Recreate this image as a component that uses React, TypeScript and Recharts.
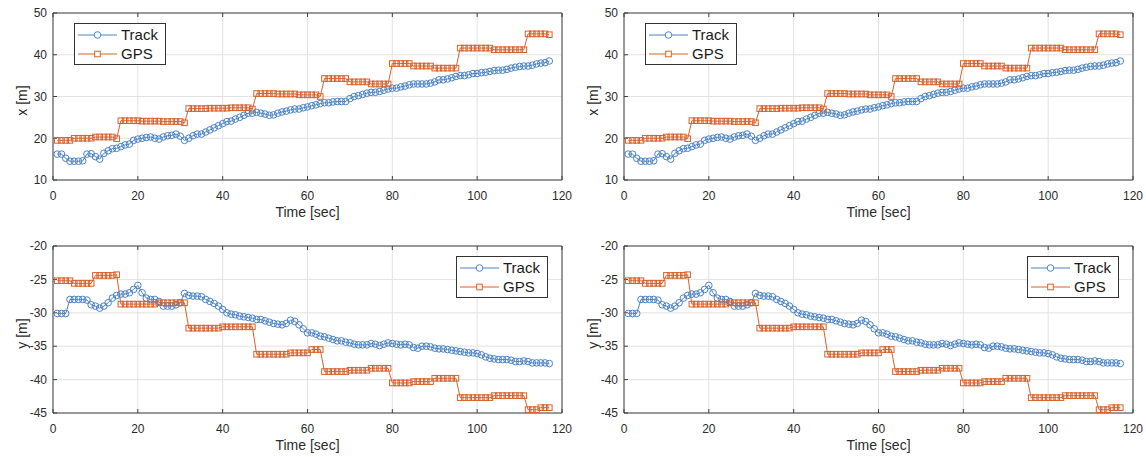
import React from 'react';
import { LineChart, Line, XAxis, YAxis, CartesianGrid, Legend } from 'recharts';

const time = [
  1, 2, 3, 4, 5, 6, 7, 8, 9, 10, 11, 12, 13, 14, 15, 16, 17, 18, 19, 20,
  21, 22, 23, 24, 25, 26, 27, 28, 29, 30, 31, 32, 33, 34, 35, 36, 37, 38, 39, 40,
  41, 42, 43, 44, 45, 46, 47, 48, 49, 50, 51, 52, 53, 54, 55, 56, 57, 58, 59, 60,
  61, 62, 63, 64, 65, 66, 67, 68, 69, 70, 71, 72, 73, 74, 75, 76, 77, 78, 79, 80,
  81, 82, 83, 84, 85, 86, 87, 88, 89, 90, 91, 92, 93, 94, 95, 96, 97, 98, 99, 100,
  101, 102, 103, 104, 105, 106, 107, 108, 109, 110, 111, 112, 113, 114, 115, 116, 117,
];

const trackX = [
  16.2, 16.2, 15.2, 14.5, 14.5, 14.5, 14.6, 16.2, 16.3, 15.6, 15.0, 16.4, 17.0, 17.5, 17.6, 18.0, 18.4, 18.6, 19.5, 19.8,
  20.0, 20.2, 20.3, 20.0, 19.8, 20.3, 20.6, 20.7, 21.0, 20.5, 19.5, 20.0, 20.6, 21.0, 21.0, 21.5, 22.0, 22.5, 23.0, 23.5,
  24.0, 24.1, 24.6, 25.0, 25.5, 26.0, 26.0, 26.2, 26.0, 25.8, 25.5, 25.6, 26.0, 26.3, 26.5, 26.8, 27.0, 27.0, 27.3, 27.5,
  27.8, 28.0, 28.3, 28.5, 28.5, 28.7, 28.8, 28.8, 28.8, 29.5, 30.0, 30.2, 30.5, 30.8, 31.0, 31.0, 31.2, 31.5, 31.8, 32.0,
  32.0, 32.3, 32.5, 32.8, 33.0, 33.0, 33.0, 33.0, 33.2, 33.5, 34.0, 34.0, 34.2, 34.5, 34.8, 35.0, 35.0, 35.2, 35.5, 35.5,
  35.7, 35.8, 36.0, 36.2, 36.3, 36.3, 36.5, 36.8, 37.0, 37.2, 37.3, 37.3, 37.5, 37.8, 38.0, 38.1, 38.5,
];

const gpsX = [
  19.5, 19.5, 19.5, 19.5, 20.0, 20.0, 20.0, 20.0, 20.0, 20.3, 20.3, 20.3, 20.3, 20.3, 19.9,
  24.2, 24.2, 24.2, 24.2, 24.2, 24.1, 24.1, 24.1, 24.1, 24.1, 24.0, 24.0, 24.0, 24.0, 24.0, 23.7,
  27.1, 27.1, 27.1, 27.1, 27.1, 27.2, 27.2, 27.2, 27.2, 27.2, 27.3, 27.3, 27.3, 27.3, 27.3, 27.0,
  30.7, 30.7, 30.7, 30.7, 30.7, 30.6, 30.6, 30.6, 30.6, 30.6, 30.4, 30.4, 30.4, 30.4, 30.4, 30.0,
  34.3, 34.3, 34.3, 34.3, 34.3, 34.3, 33.5, 33.5, 33.5, 33.5, 33.5, 33.0, 33.0, 33.0, 33.0, 33.0,
  37.9, 37.9, 37.9, 37.9, 37.9, 37.3, 37.3, 37.3, 37.3, 37.3, 36.8, 36.8, 36.8, 36.8, 36.8, 36.8,
  41.6, 41.6, 41.6, 41.6, 41.6, 41.6, 41.6, 41.6, 41.2, 41.2, 41.2, 41.2, 41.2, 41.2, 41.2, 41.2,
  45.0, 45.0, 45.0, 45.0, 45.0, 44.8,
];

const trackY = [
  -30.1, -30.1, -30.1, -28.0, -28.0, -28.0, -28.0, -28.1, -28.8, -29.0, -29.3, -29.0, -28.5, -27.8, -27.4, -27.2, -27.2, -27.0, -26.5, -25.9,
  -27.0, -27.8, -28.0, -28.0, -28.3, -29.0, -29.0, -29.0, -28.8, -28.5, -27.1, -27.4, -27.5, -27.5, -27.6, -28.0, -28.3, -28.6, -29.0, -29.5,
  -30.0, -30.2, -30.3, -30.5, -30.6, -30.7, -30.8, -31.0, -31.0, -31.2, -31.4, -31.6, -31.7, -31.8, -31.6, -31.1, -31.3, -31.8, -32.4, -33.0,
  -33.0, -33.2, -33.5, -33.6, -33.8, -34.0, -34.2, -34.2, -34.4, -34.5, -34.7, -34.8, -34.8, -34.8, -34.6, -34.7, -34.9, -34.7, -34.5, -34.6,
  -34.7, -34.8, -34.7, -34.8, -35.2, -35.3, -35.0, -35.0, -35.1, -35.3, -35.4, -35.4, -35.5, -35.6, -35.7, -35.8, -35.9, -36.0, -36.0, -36.1,
  -36.3, -36.6, -36.8, -36.9, -37.0, -37.0, -37.0, -37.1, -37.3, -37.3, -37.2, -37.3, -37.5, -37.5, -37.5, -37.5, -37.6,
];

const gpsY = [
  -25.2, -25.2, -25.2, -25.2, -25.6, -25.6, -25.6, -25.6, -25.6, -24.4, -24.4, -24.4, -24.4, -24.4, -24.3,
  -28.7, -28.7, -28.7, -28.7, -28.7, -28.7, -28.7, -28.7, -28.7, -28.5, -28.5, -28.5, -28.5, -28.5, -28.5, -28.5,
  -32.3, -32.3, -32.3, -32.3, -32.3, -32.3, -32.3, -32.3, -32.1, -32.1, -32.1, -32.1, -32.1, -32.1, -32.1, -32.1,
  -36.2, -36.2, -36.2, -36.2, -36.2, -36.2, -36.2, -36.2, -36.0, -36.0, -36.0, -36.0, -36.0, -35.5, -35.5, -35.5,
  -38.8, -38.8, -38.8, -38.8, -38.8, -38.8, -38.6, -38.6, -38.6, -38.6, -38.6, -38.3, -38.3, -38.3, -38.3, -38.3,
  -40.5, -40.5, -40.5, -40.5, -40.5, -40.3, -40.3, -40.3, -40.3, -40.3, -39.8, -39.8, -39.8, -39.8, -39.8, -39.8,
  -42.7, -42.7, -42.7, -42.7, -42.7, -42.7, -42.7, -42.7, -42.4, -42.4, -42.4, -42.4, -42.4, -42.4, -42.4, -42.4,
  -44.5, -44.5, -44.5, -44.2, -44.2, -44.2,
];

const timeTicks = [0, 20, 40, 60, 80, 100, 120];
const xPosTicks = [10, 20, 30, 40, 50];
const yPosTicks = [-45, -40, -35, -30, -25, -20];
const seriesNames = ['Track', 'GPS'];
const timeLabel = 'Time [sec]';

const TRACK_COLOR = '#4a83c6';
const GPS_COLOR = '#d9602a';
const AXIS_COLOR = '#404040';
const TEXT_COLOR = '#2b2b2b';
const GRID_COLOR = '#e2e2e2';
const FONT = '"Liberation Sans", Arial, Helvetica, sans-serif';

const xRows = time.map((t, i) => ({ t, track: trackX[i], gps: gpsX[i] }));
const yRows = time.map((t, i) => ({ t, track: trackY[i], gps: gpsY[i] }));

const CircleDot = (p: any) => {
  if (p.cx == null || p.cy == null) return null;
  return <circle key={`c${p.index}`} cx={p.cx} cy={p.cy} r={3.3} fill="none" stroke={TRACK_COLOR} strokeWidth={1} />;
};

const SquareDot = (p: any) => {
  if (p.cx == null || p.cy == null) return null;
  return (
    <rect key={`s${p.index}`} x={p.cx - 2.8} y={p.cy - 2.8} width={5.6} height={5.6} fill="none" stroke={GPS_COLOR} strokeWidth={1} />
  );
};

const LegendBox = () => (
  <div
    style={{
      width: 92,
      height: 42,
      boxSizing: 'border-box',
      border: '1px solid #333',
      background: '#fff',
      position: 'relative',
      fontFamily: FONT,
      fontSize: 15,
      color: '#1a1a1a',
    }}
  >
    {seriesNames.map((name, i) => (
      <div
        key={name}
        style={{ position: 'absolute', left: 0, top: 2 + i * 19, height: 18, display: 'flex', alignItems: 'center', whiteSpace: 'nowrap' }}
      >
        <svg width={46} height={18} style={{ display: 'block' }}>
          <line x1={3} x2={42} y1={9} y2={9} stroke={i === 0 ? TRACK_COLOR : GPS_COLOR} strokeWidth={1} />
          {i === 0 ? (
            <circle cx={22.5} cy={9} r={3.3} fill="#fff" stroke={TRACK_COLOR} strokeWidth={1} />
          ) : (
            <rect x={19.7} y={6.2} width={5.6} height={5.6} fill="#fff" stroke={GPS_COLOR} strokeWidth={1} />
          )}
        </svg>
        <span style={{ lineHeight: '18px' }}>{name}</span>
      </div>
    ))}
  </div>
);

type PanelProps = {
  data: { t: number; track: number; gps: number }[];
  domain: [number, number];
  ticks: number[];
  yLabel: string;
  left: number;
  top: number;
  height: number;
  marginTop: number;
  marginBottom: number;
  legendLeft: number;
  legendTop: number;
};

const Panel = ({ data, domain, ticks, yLabel, left, top, height, marginTop, marginBottom, legendLeft, legendTop }: PanelProps) => (
  <div style={{ position: 'absolute', left, top, width: 573, height }}>
    <LineChart width={573} height={height} data={data} margin={{ top: marginTop - 1, right: 10, bottom: 0, left: 0 }}>
      <CartesianGrid stroke={GRID_COLOR} strokeWidth={1} />
      <XAxis
        dataKey="t"
        type="number"
        domain={[0, 120]}
        ticks={timeTicks}
        interval={0}
        height={marginBottom}
        tickSize={-4}
        tickMargin={15}
        axisLine={{ stroke: AXIS_COLOR }}
        tickLine={{ stroke: AXIS_COLOR }}
        tick={{ fill: TEXT_COLOR, fontSize: 12, fontFamily: FONT }}
        label={{
          content: (p: any) => {
            const vb = p.viewBox || {};
            return (
              <text x={vb.x + vb.width / 2} y={vb.y + 37} textAnchor="middle" fontSize={14} fill={TEXT_COLOR} fontFamily={FONT}>
                {timeLabel}
              </text>
            );
          },
        }}
      />
      <XAxis
        xAxisId="top"
        orientation="top"
        dataKey="t"
        type="number"
        domain={[0, 120]}
        ticks={timeTicks}
        interval={0}
        height={1}
        tickSize={-4}
        tickFormatter={() => ''}
        axisLine={{ stroke: AXIS_COLOR }}
        tickLine={{ stroke: AXIS_COLOR }}
      />
      <YAxis
        type="number"
        domain={domain}
        ticks={ticks}
        interval={0}
        width={53}
        tickSize={-4}
        tickMargin={10}
        axisLine={{ stroke: AXIS_COLOR }}
        tickLine={{ stroke: AXIS_COLOR }}
        tick={{ fill: TEXT_COLOR, fontSize: 12, fontFamily: FONT }}
        label={{
          content: (p: any) => {
            const vb = p.viewBox || {};
            const cx = vb.x + 22;
            const cy = vb.y + vb.height / 2 + 4;
            return (
              <text
                x={cx}
                y={cy}
                transform={`rotate(-90 ${cx} ${cy})`}
                textAnchor="middle"
                dominantBaseline="central"
                fontSize={14}
                fill={TEXT_COLOR}
                fontFamily={FONT}
              >
                {yLabel}
              </text>
            );
          },
        }}
      />
      <YAxis
        yAxisId="right"
        orientation="right"
        type="number"
        domain={domain}
        ticks={ticks}
        interval={0}
        width={1}
        tickSize={-4}
        tickFormatter={() => ''}
        axisLine={{ stroke: AXIS_COLOR }}
        tickLine={{ stroke: AXIS_COLOR }}
      />
      <Line
        dataKey="track"
        name={seriesNames[0]}
        type="linear"
        stroke={TRACK_COLOR}
        strokeWidth={1}
        dot={CircleDot}
        activeDot={false}
        isAnimationActive={false}
      />
      <Line
        dataKey="gps"
        name={seriesNames[1]}
        type="linear"
        stroke={GPS_COLOR}
        strokeWidth={1}
        dot={SquareDot}
        activeDot={false}
        isAnimationActive={false}
      />
      <Legend
        layout="vertical"
        align="center"
        verticalAlign="middle"
        wrapperStyle={{ left: legendLeft, top: legendTop, width: 'auto', height: 'auto' }}
        content={() => <LegendBox />}
      />
    </LineChart>
  </div>
);

export default function App() {
  const cols = [0, 571];
  return (
    <div style={{ position: 'absolute', left: 0, top: 0, width: 1146, height: 457, background: '#fff', overflow: 'hidden' }}>
      {cols.map((c) => (
        <React.Fragment key={c}>
          <Panel
            data={xRows}
            domain={[10, 50]}
            ticks={xPosTicks}
            yLabel="x [m]"
            left={c}
            top={0}
            height={228}
            marginTop={13}
            marginBottom={48}
            legendLeft={74}
            legendTop={23}
          />
          <Panel
            data={yRows}
            domain={[-45, -20]}
            ticks={yPosTicks}
            yLabel="y [m]"
            left={c}
            top={228}
            height={229}
            marginTop={18}
            marginBottom={44}
            legendLeft={456}
            legendTop={28}
          />
        </React.Fragment>
      ))}
    </div>
  );
}
